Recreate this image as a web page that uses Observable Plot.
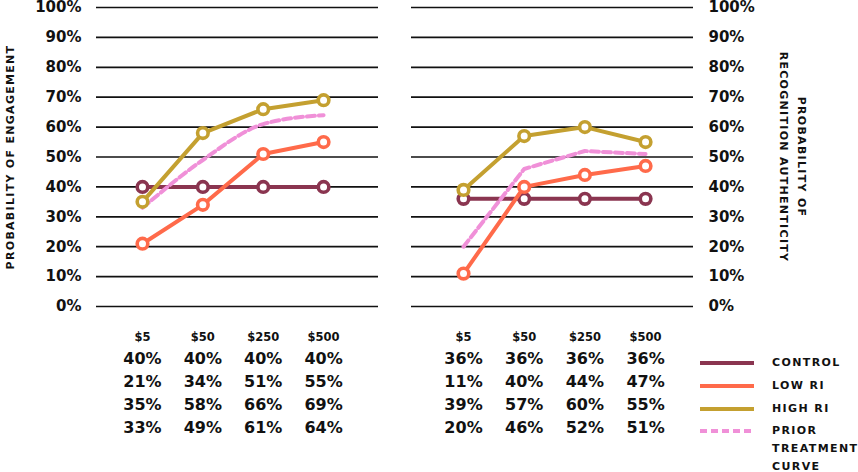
<!DOCTYPE html>
<html>
<head>
<meta charset="utf-8">
<script src="https://cdn.jsdelivr.net/npm/d3@7"></script>
<script src="https://cdn.jsdelivr.net/npm/@observablehq/plot@0.6"></script>
<style>
  body { margin: 0; background: #fff; }
  #wrap { position: relative; width: 858px; height: 472px; background: #fff; font-family: "DejaVu Sans", sans-serif; font-weight: bold; color: #111; }
  #wrap > .panel { position: absolute; top: 0; }
  .leg-row { position: absolute; left: 700px; height: 18px; }
  .leg-sw { position: absolute; left: 0; width: 54px; height: 4.5px; }
  .leg-tx { position: absolute; left: 72px; font-size: 11px; letter-spacing: 1.4px; line-height: 18px; white-space: pre; }
</style>
</head>
<body>
<div id="wrap"></div>
<script>
// ---- data ----
const prices = ["$5", "$50", "$250", "$500"];
const seriesNames = ["CONTROL", "LOW RI", "HIGH RI", "PRIOR\nTREATMENT\nCURVE"];
const seriesColors = ["#8a3550", "#ff6a4a", "#c4a030", "#f090d8"];

const engControl = [40, 40, 40, 40];
const engLow = [21, 34, 51, 55];
const engHigh = [35, 58, 66, 69];
const engPrior = [33, 49, 61, 64];

const authControl = [36, 36, 36, 36];
const authLow = [11, 40, 44, 47];
const authHigh = [39, 57, 60, 55];
const authPrior = [20, 46, 52, 51];

const yTicks = [0, 10, 20, 30, 40, 50, 60, 70, 80, 90, 100];
const engTitle = "PROBABILITY OF ENGAGEMENT";
const authTitle = "PROBABILITY OF\nRECOGNITION AUTHENTICITY";

// ---- helpers ----
const FONT = "DejaVu Sans";
const toRows = (vals) => vals.map((v, i) => ({i, v}));

function panel({control, low, high, prior, width, marginLeft, marginRight, xDomain, axisAnchor, title, titleDx, titleRotate, priorCurve}) {
  const sC = toRows(control), sL = toRows(low), sH = toRows(high), sP = toRows(prior);
  const dotOpts = (c) => ({x: "i", y: "v", r: 5.3, fill: "white", stroke: c, strokeWidth: 3.6});
  const lineOpts = (c) => ({x: "i", y: "v", stroke: c, strokeWidth: 4});
  const tableRows = [control, low, high, prior];
  const rowDy = [57, 80, 103, 126];
  const svg = Plot.plot({
    width, height: 472,
    marginLeft, marginRight, marginTop: 7, marginBottom: 166,
    style: {fontFamily: FONT, fontWeight: "bold", color: "#111", background: "transparent", overflow: "visible"},
    x: {type: "linear", domain: xDomain, axis: null},
    y: {domain: [0, 100], axis: null},
    marks: [
      Plot.ruleY(yTicks, {stroke: "#111", strokeWidth: 1.7}),
      Plot.axisY({anchor: axisAnchor, ticks: yTicks, tickSize: 0, tickPadding: 15, fontSize: 15, fontWeight: "bold", tickFormat: d => d + "%", label: null}),
      Plot.text([title], {frameAnchor: axisAnchor, textAnchor: "middle", lineAnchor: "middle", dx: titleDx, rotate: titleRotate, fontSize: 11, fontWeight: "bold", lineHeight: 1.6, fill: "#111", className: "axis-title"}),
      Plot.line(sC, lineOpts(seriesColors[0])),
      Plot.dot(sC, dotOpts(seriesColors[0])),
      Plot.line(sP, {...lineOpts(seriesColors[3]), strokeDasharray: "8,4", curve: priorCurve}),
      Plot.line(sL, lineOpts(seriesColors[1])),
      Plot.dot(sL, dotOpts(seriesColors[1])),
      Plot.line(sH, lineOpts(seriesColors[2])),
      Plot.dot(sH, dotOpts(seriesColors[2])),
      // table header
      Plot.text(prices.map((p, i) => ({i, p})), {x: "i", text: "p", frameAnchor: "bottom", dy: 34, fontSize: 11.5, fontWeight: "bold", fill: "#111"}),
      // table rows
      ...tableRows.map((vals, k) =>
        Plot.text(toRows(vals), {x: "i", text: d => d.v + "%", frameAnchor: "bottom", dy: rowDy[k], fontSize: 16, fontWeight: "bold", fill: "#111"})
      )
    ]
  });
  d3.select(svg).selectAll(".axis-title text").style("letter-spacing", "1.3px");
  return svg;
}

const wrap = document.getElementById("wrap");

const left = panel({
  control: engControl, low: engLow, high: engHigh, prior: engPrior,
  width: 400, marginLeft: 96, marginRight: 22, xDomain: [-0.762, 3.91],
  axisAnchor: "left", title: engTitle, titleDx: -88, titleRotate: -90, priorCurve: "monotone-x"
});
left.classList.add("panel");
left.style.left = "0px";
wrap.appendChild(left);

const right = panel({
  control: authControl, low: authLow, high: authHigh, prior: authPrior,
  width: 458, marginLeft: 11, marginRight: 165, xDomain: [-0.857, 3.79],
  axisAnchor: "right", title: authTitle, titleDx: 101, titleRotate: 90, priorCurve: "linear"
});
right.classList.add("panel");
right.style.left = "400px";
wrap.appendChild(right);

// ---- legend ----
const legY = [363, 386, 409, 431];
seriesNames.forEach((name, k) => {
  const row = document.createElement("div");
  row.className = "leg-row";
  row.style.top = (legY[k] - 9) + "px";
  const sw = document.createElement("div");
  sw.className = "leg-sw";
  sw.style.top = "6.75px";
  if (k === 3) {
    sw.style.background = `repeating-linear-gradient(to right, ${seriesColors[k]} 0 7px, transparent 7px 11px)`;
  } else {
    sw.style.background = seriesColors[k];
  }
  const tx = document.createElement("div");
  tx.className = "leg-tx";
  tx.textContent = name;
  row.appendChild(sw);
  row.appendChild(tx);
  wrap.appendChild(row);
});
</script>
</body>
</html>
